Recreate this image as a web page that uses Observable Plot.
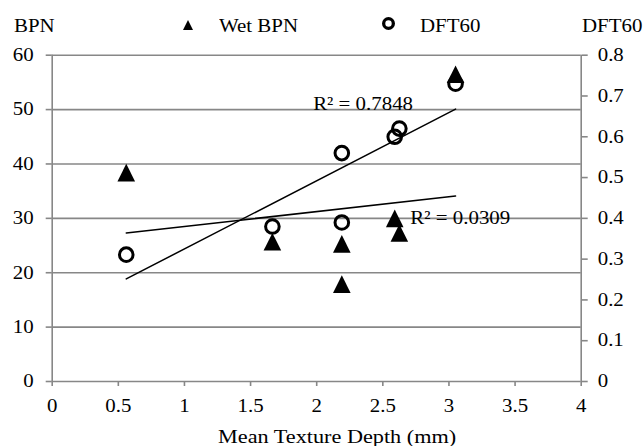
<!DOCTYPE html>
<html><head><meta charset="utf-8">
<script src="https://cdn.jsdelivr.net/npm/d3@7"></script>
<script src="https://cdn.jsdelivr.net/npm/@observablehq/plot@0.6"></script>
<style>
body{margin:0;background:#fff;}
#wrap{position:relative;width:643px;height:446px;overflow:hidden;font-family:"Liberation Serif","Times New Roman",serif;}
#wrap svg.plot{position:absolute;left:0;top:0;}
#wrap svg.plot text{font-family:"Liberation Serif","Times New Roman",serif !important;}
.lab{position:absolute;font-size:19px;line-height:19px;white-space:nowrap;transform:scaleX(1.1);transform-origin:0 0;color:#000;}
.lab.title{transform:scaleX(1.17);}
.sym{position:absolute;overflow:visible;}
</style></head><body><div id="wrap"></div>
<script>
// ---- data ----
const mtd = [0.56, 1.665, 2.19, 2.19, 2.59, 2.625, 3.05];        // Mean Texture Depth (mm)
const wetBPN = [38.4, 25.7, 25.3, 17.9, 30.0, 27.3, 56.5];        // Wet BPN (left axis)
const dft60 = [0.311, 0.380, 0.560, 0.390, 0.600, 0.620, 0.730];  // DFT60 (right axis)
const xTicks = [0, 0.5, 1, 1.5, 2, 2.5, 3, 3.5, 4];
const bpnTicks = [0, 10, 20, 30, 40, 50, 60];
const dftTicks = [0, 0.1, 0.2, 0.3, 0.4, 0.5, 0.6, 0.7, 0.8];
const r2Labels = ["R² = 0.7848", "R² = 0.0309"];

const bpnMax = 60, dftMax = 0.8, K = bpnMax / dftMax;
const rows = mtd.map((x, i) => ({x, bpn: wetBPN[i], dft: dft60[i] * K}));

// annotation placement (data units)
const notes = [
  {x: 1.973, y: 51.07, text: r2Labels[0]},
  {x: 2.708, y: 30.16, text: r2Labels[1]}
];

const gray = "#878787";
const tri = {draw(ctx, size) { const r = Math.sqrt(size / Math.PI); ctx.moveTo(0, -r); ctx.lineTo(r, r); ctx.lineTo(-r, r); ctx.closePath(); }};

const plot = Plot.plot({
  width: 643, height: 446,
  marginLeft: 51.7, marginRight: 62.3, marginTop: 54.7, marginBottom: 65,
  style: {fontFamily: "Liberation Serif, Times New Roman, serif", fontSize: "18px", color: "black", background: "white"},
  x: {domain: [0, 4]},
  y: {domain: [0, bpnMax]},
  marks: [
    Plot.ruleY(bpnTicks, {stroke: gray, strokeWidth: 1.6}),
    Plot.ruleX([0, 4], {stroke: gray, strokeWidth: 1.6}),
    Plot.axisY({anchor: "left", ticks: bpnTicks, tickFormat: d => String(d), tickSize: 6, tickPadding: 12.5, stroke: gray, strokeWidth: 1.6, fill: "black", fontSize: 18, label: null}),
    Plot.axisY({anchor: "right", ticks: dftTicks.map(d => d * K), tickFormat: d => String(+(d / K).toFixed(1)), tickSize: 6, tickPadding: 10.5, stroke: gray, strokeWidth: 1.6, fill: "black", fontSize: 18, label: null}),
    Plot.axisX({ticks: xTicks, tickFormat: d => String(d), tickSize: 5, tickPadding: 13, stroke: gray, strokeWidth: 1.6, fill: "black", fontSize: 18, label: null}),
    Plot.linearRegressionY(rows, {x: "x", y: "dft", stroke: "black", strokeWidth: 1.5, ci: 0}),
    Plot.linearRegressionY(rows, {x: "x", y: "bpn", stroke: "black", strokeWidth: 1.5, ci: 0}),
    Plot.dot(rows, {x: "x", y: "bpn", symbol: tri, r: 8.8, fill: "black", stroke: "none"}),
    Plot.dot(rows, {x: "x", y: "dft", r: 6.8, fill: "none", stroke: "black", strokeWidth: 3}),
    Plot.text(notes, {x: "x", y: "y", text: "text", textAnchor: "start", fontSize: 19, fill: "black"})
  ]
});
plot.classList.add("plot");

// horizontal stretch of the serif text, as in the reference
plot.querySelectorAll("text").forEach(t => {
  const S = t.closest("g[aria-label='text']") ? 1.1 : 1.16;
  const x = +t.getAttribute("x") || 0, y = +t.getAttribute("y") || 0;
  const T = t.getAttribute("transform") || "";
  t.setAttribute("transform", `${T} translate(${x},${y}) scale(${S},1) translate(${-x},${-y})`);
});

const wrap = document.getElementById("wrap");
wrap.appendChild(plot);

function label(text, left, top, cls) {
  const s = document.createElement("span");
  s.className = "lab" + (cls ? " " + cls : ""); s.textContent = text;
  s.style.left = left + "px"; s.style.top = top + "px";
  wrap.appendChild(s); return s;
}
label("BPN", 14, 15.6);
label("Wet BPN", 219, 15.6);
label("DFT60", 420, 15.6);
label("DFT60", 582, 15.6);
label("Mean Texture Depth (mm)", 218, 426.8, "title");

const NS = "http://www.w3.org/2000/svg";
function sym(left, top, w, h, html) {
  const s = document.createElementNS(NS, "svg");
  s.setAttribute("class", "sym"); s.setAttribute("width", w); s.setAttribute("height", h);
  s.style.left = left + "px"; s.style.top = top + "px";
  s.innerHTML = html; wrap.appendChild(s);
}
sym(183, 19.7, 10, 10, '<polygon points="5,0 10,10 0,10" fill="black"/>');
sym(381.5, 16.5, 13, 13, '<circle cx="6.5" cy="6.5" r="4.85" fill="none" stroke="black" stroke-width="3.3"/>');
</script>
</body></html>
